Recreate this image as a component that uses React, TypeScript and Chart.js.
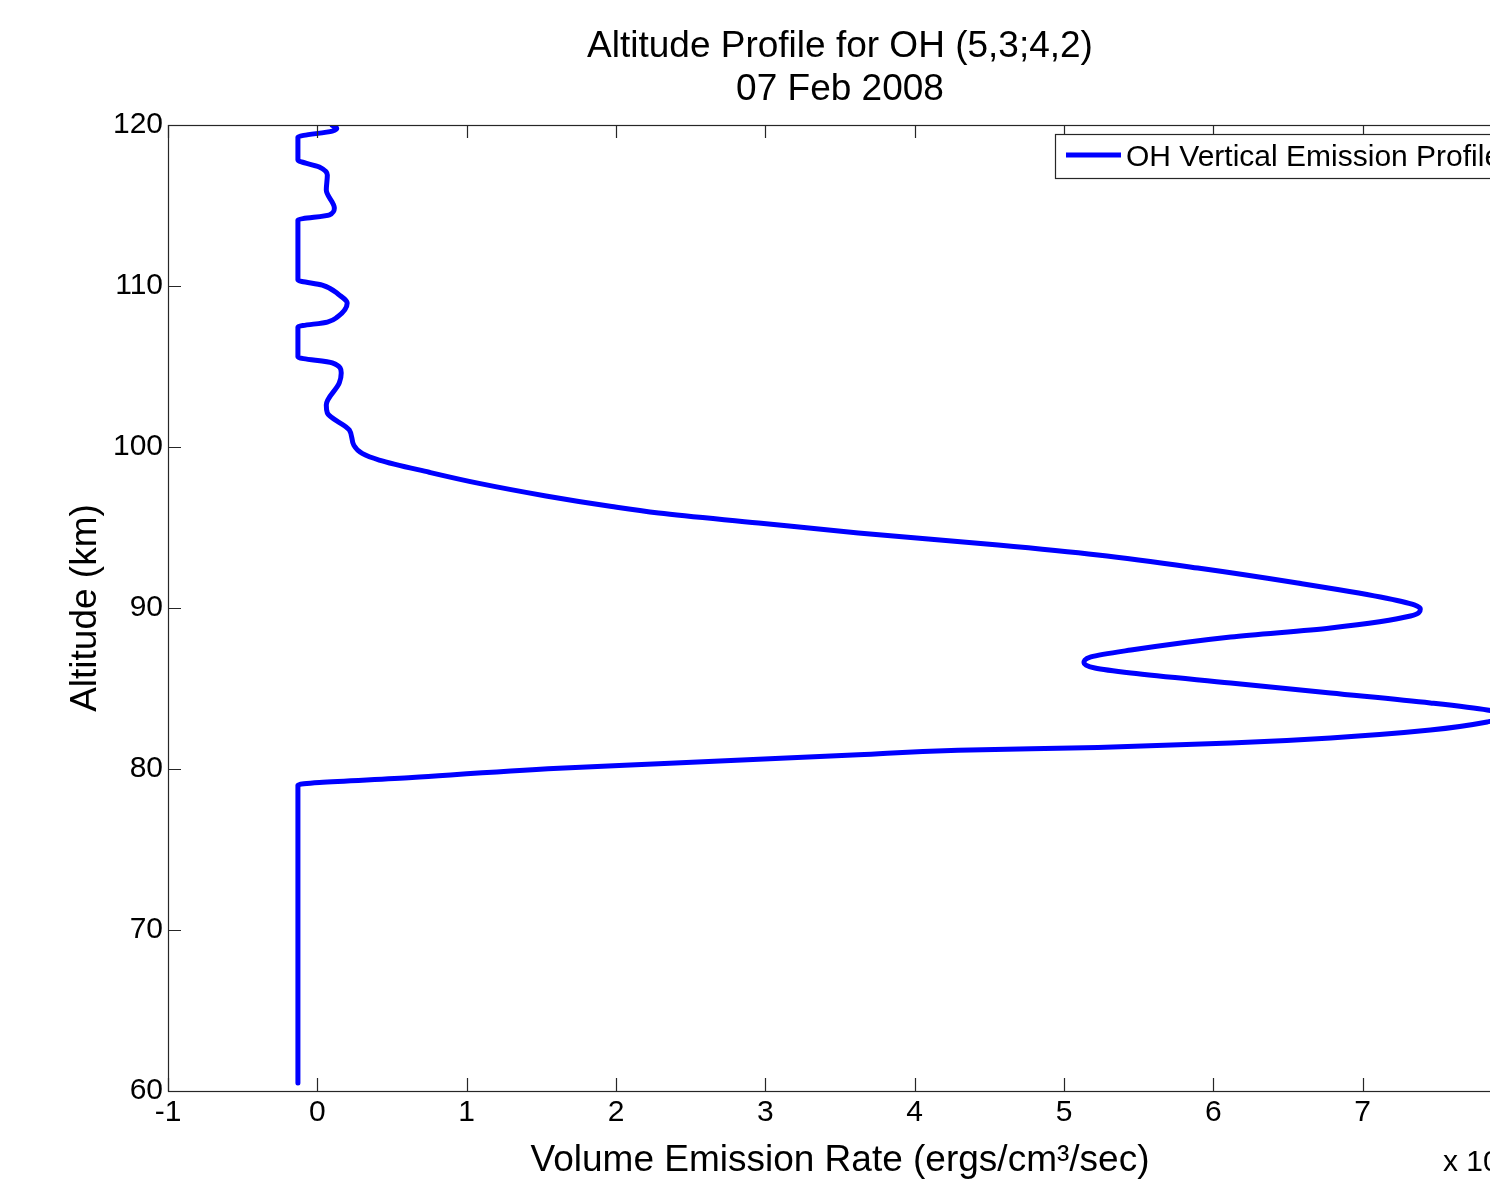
import { useEffect, useRef } from "react";
import { Chart, registerables } from "chart.js";

Chart.register(...registerables);

const chartTitle = ["Altitude Profile for OH (5,3;4,2)", "07 Feb 2008"];
const seriesLabel = "OH Vertical Emission Profile";
const xAxisLabel = "Volume Emission Rate (ergs/cm\u00B3/sec)";
const yAxisLabel = "Altitude (km)";
const exponentBase = "x 10";
const exponentPower = "-8";
const xTickValues = [-1, 0, 1, 2, 3, 4, 5, 6, 7, 8];
const yTickValues = [60, 70, 80, 90, 100, 110, 120];

// emission rate (axis units, x 10^n) along the profile, bottom to top
const emission = [
  -0.13, -0.13, 0.635, 1.618, 2.286, 2.955, 3.623, 4.291, 5.227, 6.116, 6.785, 7.453, 7.834, 7.98,
  7.834, 7.453, 6.785, 6.116, 5.448, 5.207, 5.134, 5.18, 5.448, 6.116, 6.785, 7.32, 7.386, 7.346,
  7.119, 6.564, 5.896, 5.227, 4.559, 3.623, 2.955, 2.286, 1.972, 1.531, 1.083, 0.749, 0.414, 0.3,
  0.245, 0.214, 0.067, 0.06, 0.147, 0.16, 0.1, -0.13, -0.13, 0.067, 0.134, 0.2, 0.147, 0.033, -0.13,
  -0.13, 0.08, 0.114, 0.06, 0.067, 0.013, -0.13, -0.13, 0.1, 0.13, 0.1,
];
// altitude (km) for each emission value
const altitude = [
  60.5, 79.0, 79.47, 80.04, 80.32, 80.6, 80.88, 81.16, 81.34, 81.61, 81.93, 82.42, 82.92, 83.3,
  83.66, 84.1, 84.72, 85.34, 85.96, 86.27, 86.58, 86.96, 87.39, 88.2, 88.76, 89.5, 89.94, 90.19,
  90.68, 91.55, 92.48, 93.29, 93.91, 94.66, 95.28, 95.9, 96.3, 96.96, 97.74, 98.43, 99.19, 99.6,
  100.1, 101.06, 102.11, 102.61, 103.98, 104.6, 105.22, 105.59, 107.45, 107.76, 108.07, 108.94,
  109.44, 110.06, 110.37, 114.1, 114.41, 114.84, 115.96, 116.9, 117.39, 117.83, 119.25, 119.62,
  119.8, 119.97,
];

const FONT = "'Liberation Sans', Arial, Helvetica, sans-serif";
const LINE_COLOR = "#0000ff";
const AXIS_COLOR = "#262626";

const matlabAxesPlugin = {
  id: "matlabAxes",
  afterDatasetsDraw(chart: any) {
    const { ctx, chartArea, scales } = chart;
    const { left, right, top, bottom } = chartArea;
    const xs = scales.x;
    const ys = scales.y;
    const tickLen = 13;
    ctx.save();
    ctx.strokeStyle = AXIS_COLOR;
    ctx.lineWidth = 1.2;
    ctx.strokeRect(Math.round(left) + 0.5, Math.round(top) + 0.5, Math.round(right - left), Math.round(bottom - top));
    ctx.beginPath();
    xTickValues.forEach((v) => {
      const px = Math.round(xs.getPixelForValue(v)) + 0.5;
      ctx.moveTo(px, bottom);
      ctx.lineTo(px, bottom - tickLen);
      ctx.moveTo(px, top);
      ctx.lineTo(px, top + tickLen);
    });
    yTickValues.forEach((v) => {
      const py = Math.round(ys.getPixelForValue(v)) + 0.5;
      ctx.moveTo(left, py);
      ctx.lineTo(left + tickLen, py);
      ctx.moveTo(right, py);
      ctx.lineTo(right - tickLen, py);
    });
    ctx.stroke();

    // legend box (north-east, inside axes)
    const boxRight = right - 8;
    const boxLeft = left + 887;
    const boxTop = top + 9;
    const boxH = 44;
    ctx.fillStyle = "#ffffff";
    ctx.fillRect(boxLeft, boxTop, boxRight - boxLeft, boxH);
    ctx.strokeStyle = AXIS_COLOR;
    ctx.lineWidth = 1.2;
    ctx.strokeRect(Math.round(boxLeft) + 0.5, Math.round(boxTop) + 0.5, Math.round(boxRight - boxLeft), boxH);
    const ds = chart.data.datasets[0];
    ctx.strokeStyle = ds.borderColor;
    ctx.lineWidth = 5;
    ctx.beginPath();
    ctx.moveTo(boxLeft + 11, boxTop + 21);
    ctx.lineTo(boxLeft + 66, boxTop + 21);
    ctx.stroke();
    ctx.fillStyle = "#000000";
    ctx.font = `30px ${FONT}`;
    ctx.textAlign = "left";
    ctx.textBaseline = "middle";
    ctx.fillText(ds.label, boxLeft + 71, boxTop + 24);

    // exponent label for x axis
    ctx.font = `30px ${FONT}`;
    ctx.textBaseline = "middle";
    const ex = right - 69;
    const ey = bottom + 72;
    ctx.fillText(exponentBase, ex, ey);
    const w = ctx.measureText(exponentBase).width;
    ctx.font = `21px ${FONT}`;
    ctx.fillText(exponentPower, ex + w + 1, ey - 13);
    ctx.restore();
  },
};

export default function App() {
  const canvasRef = useRef<HTMLCanvasElement | null>(null);

  useEffect(() => {
    const canvas = canvasRef.current;
    if (!canvas) return;
    const points = emission.map((x, i) => ({ x, y: altitude[i] }));
    const chart = new Chart(canvas, {
      type: "line",
      data: {
        datasets: [
          {
            label: seriesLabel,
            data: points,
            borderColor: LINE_COLOR,
            backgroundColor: LINE_COLOR,
            borderWidth: 5,
            pointRadius: 0,
            pointHoverRadius: 0,
            fill: false,
            cubicInterpolationMode: "monotone",
            borderJoinStyle: "round",
            borderCapStyle: "round",
          },
        ],
      },
      options: {
        indexAxis: "y",
        responsive: false,
        animation: false,
        devicePixelRatio: 1,
        events: [],
        layout: { padding: { top: 0, left: 0, right: 48, bottom: 0 } },
        plugins: {
          legend: { display: false },
          tooltip: { enabled: false },
          title: {
            display: true,
            text: chartTitle,
            fullSize: false,
            color: "#000000",
            font: { family: FONT, size: 37, weight: "normal", lineHeight: 1.162 },
            padding: { top: 25, bottom: 14 },
          },
        },
        scales: {
          x: {
            type: "linear",
            min: -1,
            max: 8,
            afterBuildTicks: (scale: any) => {
              scale.ticks = xTickValues.map((value) => ({ value }));
            },
            afterFit: (scale: any) => {
              scale.height = 88;
            },
            grid: { display: false, drawTicks: false },
            border: { display: false },
            ticks: {
              autoSkip: false,
              maxRotation: 0,
              padding: 4,
              color: "#000000",
              font: { family: FONT, size: 30 },
            },
            title: {
              display: true,
              text: xAxisLabel,
              color: "#000000",
              font: { family: FONT, size: 37, lineHeight: 1.0 },
              padding: { top: 0, bottom: 0 },
            },
          },
          y: {
            type: "linear",
            min: 60,
            max: 120,
            afterBuildTicks: (scale: any) => {
              scale.ticks = yTickValues.map((value) => ({ value }));
            },
            afterFit: (scale: any) => {
              scale.width = 168;
            },
            grid: { display: false, drawTicks: false },
            border: { display: false },
            ticks: {
              autoSkip: false,
              padding: 5,
              color: "#000000",
              font: { family: FONT, size: 30 },
            },
            title: {
              display: true,
              text: yAxisLabel,
              color: "#000000",
              font: { family: FONT, size: 37, lineHeight: 1.2 },
              padding: { top: 64, bottom: 0 },
            },
          },
        },
      },
      plugins: [matlabAxesPlugin],
    });
    return () => chart.destroy();
  }, []);

  return (
    <div
      style={{
        position: "fixed",
        left: 0,
        top: 0,
        width: 1490,
        height: 1179,
        overflow: "hidden",
        background: "#ffffff",
      }}
    >
      <canvas ref={canvasRef} width={1560} height={1179} style={{ display: "block", width: 1560, height: 1179 }} />
    </div>
  );
}
